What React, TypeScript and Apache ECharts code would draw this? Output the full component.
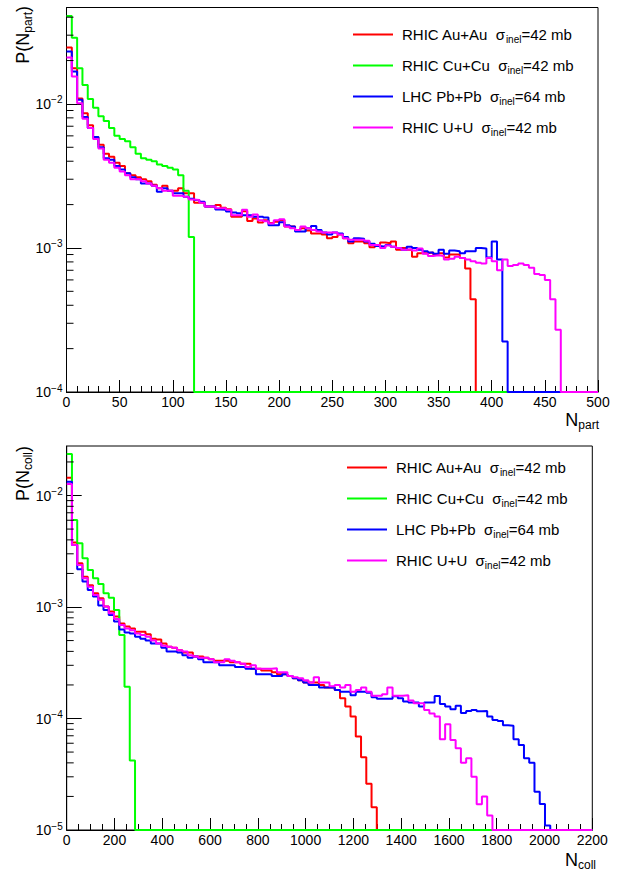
import React, { useEffect, useRef } from "react";
import * as echarts from "echarts";

const FONT = "Liberation Sans";

// ---------- data ----------
const NPART_BIN = 5; // bin width in N_part
const NCOLL_BIN = 22; // bin width in N_coll

const seriesNames = ["RHIC Au+Au", "RHIC Cu+Cu", "LHC Pb+Pb", "RHIC U+U"];
const sigmaInel = [42, 42, 64, 42];
const seriesColors = ["#ff0000", "#00ff00", "#0000ff", "#ff00ff"];

// P(N_part), 100 bins of width 5 from 0 to 500
const npartAuAu = [
  0.0246, 0.0177, 0.0109, 0.0086, 0.0071, 0.0059, 0.0052, 0.0045, 0.0043, 0.0039,
  0.0037, 0.0033, 0.0032, 0.0031, 0.003, 0.0029, 0.00275, 0.0026, 0.0027, 0.0025,
  0.0025, 0.0026, 0.0024, 0.0024, 0.00206, 0.00206, 0.00194, 0.00194, 0.00199, 0.0019,
  0.00186, 0.00165, 0.00165, 0.0018, 0.00154, 0.0016, 0.0015, 0.00156, 0.00149, 0.00152,
  0.00156, 0.00141, 0.00141, 0.00133, 0.00137, 0.00132, 0.00126, 0.00126, 0.00124, 0.00117,
  0.00119, 0.00124, 0.00117, 0.00108, 0.00111, 0.00111, 0.00108, 0.00101, 0.00105, 0.00109,
  0.00108, 0.00111, 0.00097, 0.001, 0.00097, 0.00087, 0.00092, 0.00092, 0.00093, 0.0009,
  0.00092, 0.00086, 0.0009, 0.0009, 0.00085, 0.00072, 0.00044, 0, 0, 0,
  0, 0, 0, 0, 0, 0, 0, 0, 0, 0,
  0, 0, 0, 0, 0, 0, 0, 0, 0, 0,
];
const npartCuCu = [
  0.0408, 0.0288, 0.0177, 0.01355, 0.0108, 0.0094, 0.0082, 0.0076, 0.0068, 0.006,
  0.0057, 0.0055, 0.005, 0.0045, 0.0042, 0.0041, 0.004, 0.0038, 0.0037, 0.0036,
  0.0035, 0.0032, 0.0025, 0.00119, 0, 0, 0, 0, 0, 0,
  0, 0, 0, 0, 0, 0, 0, 0, 0, 0,
  0, 0, 0, 0, 0, 0, 0, 0, 0, 0,
  0, 0, 0, 0, 0, 0, 0, 0, 0, 0,
  0, 0, 0, 0, 0, 0, 0, 0, 0, 0,
  0, 0, 0, 0, 0, 0, 0, 0, 0, 0,
  0, 0, 0, 0, 0, 0, 0, 0, 0, 0,
  0, 0, 0, 0, 0, 0, 0, 0, 0, 0,
];
const npartPbPb = [
  0.0231, 0.0168, 0.0107, 0.0081, 0.0068, 0.0059, 0.005, 0.0042, 0.0041, 0.0037,
  0.0035, 0.0033, 0.0031, 0.003, 0.0028, 0.0028, 0.0027, 0.00246, 0.0026, 0.0025,
  0.0024, 0.0024, 0.00227, 0.0022, 0.00215, 0.00209, 0.00194, 0.00194, 0.00185, 0.00184,
  0.00179, 0.00176, 0.00174, 0.00169, 0.00169, 0.00165, 0.00165, 0.00163, 0.00144, 0.00144,
  0.00151, 0.00144, 0.00141, 0.0013, 0.0013, 0.00137, 0.00142, 0.00133, 0.00128, 0.00124,
  0.00128, 0.00126, 0.00119, 0.00111, 0.00117, 0.00116, 0.00111, 0.00107, 0.00103, 0.00102,
  0.00105, 0.00102, 0.001, 0.00097, 0.00102, 0.001, 0.00097, 0.00095, 0.00093, 0.00091,
  0.00097, 0.00091, 0.00096, 0.00095, 0.00092, 0.00095, 0.00095, 0.001, 0.00099, 0.00086,
  0.00111, 0.00083, 0.000224, 0, 0, 0, 0, 0, 0, 0,
  0, 0, 0, 0, 0, 0, 0, 0, 0, 0,
];
const npartUU = [
  0.021, 0.0155, 0.0101, 0.0079, 0.0068, 0.0057, 0.0049, 0.0041, 0.0039, 0.0036,
  0.0034, 0.0032, 0.003, 0.003, 0.0029, 0.0028, 0.0027, 0.0026, 0.0025, 0.0025,
  0.0023, 0.0023, 0.00227, 0.00217, 0.00215, 0.00206, 0.00194, 0.00194, 0.00189, 0.00189,
  0.00184, 0.00169, 0.00169, 0.00184, 0.00165, 0.00171, 0.00156, 0.00153, 0.00148, 0.00156,
  0.00158, 0.00141, 0.00137, 0.00133, 0.00141, 0.00137, 0.00133, 0.0013, 0.00128, 0.00128,
  0.00128, 0.00124, 0.00117, 0.00114, 0.00114, 0.00114, 0.00112, 0.00105, 0.00105, 0.001,
  0.00104, 0.00102, 0.001, 0.00097, 0.00098, 0.00096, 0.00099, 0.00091, 0.00088, 0.00089,
  0.00088, 0.00083, 0.00084, 0.00087, 0.00085, 0.00083, 0.00081, 0.00079, 0.00078, 0.00085,
  0.00081, 0.0007, 0.00083, 0.00075, 0.00076, 0.00078, 0.00076, 0.00073, 0.00066, 0.00065,
  0.0006, 0.00044, 0.00027, 0, 0, 0, 0, 0, 0, 0,
];

// P(N_coll), 100 bins of width 22 from 0 to 2200
const ncollAuAu = [
  0.01445, 0.00378, 0.00247, 0.00187, 0.00157, 0.00133, 0.0012, 0.00101, 0.00091, 0.00082,
  0.00071, 0.00067, 0.00064, 0.0006, 0.0006, 0.00057, 0.00052, 0.00051, 0.00047, 0.00044,
  0.00043, 0.00041, 0.00039, 0.00039, 0.00036, 0.00036, 0.00035, 0.00034, 0.00033, 0.00033,
  0.00033, 0.00032, 0.00032, 0.00031, 0.00031, 0.00028, 0.00028, 0.00027, 0.00027, 0.00026,
  0.00025, 0.00025, 0.00024, 0.00023, 0.00022, 0.00021, 0.00021, 0.00021, 0.0002, 0.00019,
  0.00019, 0.00018, 0.000152, 0.000128, 0.000104, 0.000069, 0.000045, 0.000026, 0.000016, 0,
  0, 0, 0, 0, 0, 0, 0, 0, 0, 0,
  0, 0, 0, 0, 0, 0, 0, 0, 0, 0,
  0, 0, 0, 0, 0, 0, 0, 0, 0, 0,
  0, 0, 0, 0, 0, 0, 0, 0, 0, 0,
];
const ncollCuCu = [
  0.0236, 0.00603, 0.00373, 0.00274, 0.00215, 0.00181, 0.00161, 0.00133, 0.00121, 0.00094,
  0.00056, 0.000193, 0.000042, 0, 0, 0, 0, 0, 0, 0,
  0, 0, 0, 0, 0, 0, 0, 0, 0, 0,
  0, 0, 0, 0, 0, 0, 0, 0, 0, 0,
  0, 0, 0, 0, 0, 0, 0, 0, 0, 0,
  0, 0, 0, 0, 0, 0, 0, 0, 0, 0,
  0, 0, 0, 0, 0, 0, 0, 0, 0, 0,
  0, 0, 0, 0, 0, 0, 0, 0, 0, 0,
  0, 0, 0, 0, 0, 0, 0, 0, 0, 0,
  0, 0, 0, 0, 0, 0, 0, 0, 0, 0,
];
const ncollPbPb = [
  0.0133, 0.0036, 0.00218, 0.00169, 0.00142, 0.00124, 0.00103, 0.00094, 0.00085, 0.00074,
  0.00063, 0.00059, 0.00058, 0.00054, 0.00052, 0.0005, 0.00047, 0.00047, 0.00043, 0.0004,
  0.0004, 0.00039, 0.00037, 0.00035, 0.00036, 0.00034, 0.00032, 0.00032, 0.00032, 0.0003,
  0.0003, 0.0003, 0.00029, 0.00029, 0.00028, 0.00028, 0.00025, 0.00025, 0.00025, 0.00024,
  0.00024, 0.00025, 0.00024, 0.00023, 0.00022, 0.00021, 0.0002, 0.0002, 0.00019, 0.00019,
  0.00019, 0.00018, 0.000174, 0.000174, 0.000162, 0.000174, 0.000174, 0.00017, 0.000155, 0.00015,
  0.00015, 0.00015, 0.000158, 0.000152, 0.000142, 0.000139, 0.000139, 0.000128, 0.000139, 0.000139,
  0.000159, 0.000135, 0.000128, 0.000121, 0.00013, 0.000112, 0.000117, 0.000119, 0.000116, 0.000117,
  0.000104, 0.000097, 0.000095, 0.000087, 0.000086, 0.000065, 0.000058, 0.000044, 0.00004, 0.000022,
  0.0000171, 0.000011, 0, 0, 0, 0, 0, 0, 0, 0,
];
const ncollUU = [
  0.0127, 0.0036, 0.00238, 0.00181, 0.00152, 0.00128, 0.00116, 0.00101, 0.00088, 0.00078,
  0.00069, 0.00064, 0.00062, 0.00058, 0.00056, 0.00054, 0.0005, 0.00047, 0.00045, 0.00044,
  0.00043, 0.00041, 0.0004, 0.00037, 0.00036, 0.00035, 0.00035, 0.00034, 0.00032, 0.00032,
  0.00034, 0.00033, 0.00032, 0.00031, 0.00029, 0.0003, 0.00028, 0.00028, 0.00028, 0.000282,
  0.00026, 0.00026, 0.00024, 0.000234, 0.00023, 0.00022, 0.00021, 0.000234, 0.00021, 0.00021,
  0.000195, 0.0002, 0.00019, 0.0002, 0.000174, 0.00018, 0.00019, 0.000174, 0.00016, 0.00016,
  0.000165, 0.00019, 0.00016, 0.00016, 0.000162, 0.000145, 0.000137, 0.000137, 0.000119, 0.000111,
  0.000104, 0.000065, 0.000089, 0.000064, 0.000054, 0.00004, 0.000044, 0.00003, 0.000017, 0.00002,
  0.0000135, 0, 0, 0, 0, 0, 0, 0, 0, 0,
  0, 0, 0, 0, 0, 0, 0, 0, 0, 0,
];

// axes
const npartAxis = { min: 0, max: 500, interval: 50 };
const ncollAxis = { min: 0, max: 2200, interval: 200 };
const topY = { min: 1e-4, max: 0.0467 };
const bottomY = { min: 1e-5, max: 0.0278 };
const topMinorY = [
  2e-4, 3e-4, 4e-4, 5e-4, 6e-4, 7e-4, 8e-4, 9e-4,
  2e-3, 3e-3, 4e-3, 5e-3, 6e-3, 7e-3, 8e-3, 9e-3,
  2e-2, 3e-2, 4e-2,
];
const bottomMinorY = [
  2e-5, 3e-5, 4e-5, 5e-5, 6e-5, 7e-5, 8e-5, 9e-5,
  2e-4, 3e-4, 4e-4, 5e-4, 6e-4, 7e-4, 8e-4, 9e-4,
  2e-3, 3e-3, 4e-3, 5e-3, 6e-3, 7e-3, 8e-3, 9e-3,
  2e-2,
];

// ---------- helpers ----------
function histPoints(values: number[], bin: number, floor: number) {
  const clamp = (v: number) => (v > floor ? v : floor);
  const pts = values.map((v, i) => [i * bin, clamp(v)]);
  pts.push([values.length * bin, clamp(values[values.length - 1])]);
  return pts;
}

const labelRich = {
  b: { fontSize: 14, fontFamily: FONT, color: "#000" },
  s: { fontSize: 10, fontFamily: FONT, color: "#000", padding: [0, 0, 8, 0] },
};

function logLabel(v: number) {
  const e = Math.round(Math.log10(v));
  return `{b|10}{s|${e < 0 ? "\u2212" : ""}${Math.abs(e)}}`;
}

function legendFormatter(name: string) {
  const i = seriesNames.indexOf(name);
  return `{t0|${name}  \u03c3}{s|inel}{t|=${sigmaInel[i]} mb}`;
}

const legendRich = {
  t0: { fontSize: 15, fontFamily: FONT, color: "#000", padding: [0, 0, 0, 4] },
  t: { fontSize: 15, fontFamily: FONT, color: "#000" },
  s: { fontSize: 10, fontFamily: FONT, color: "#000", padding: [9, 0, 0, 0] },
};

function xAxisCfg(gridIndex: number, ax: { min: number; max: number; interval: number }, minorSplit: number) {
  return {
    type: "value",
    gridIndex,
    min: ax.min,
    max: ax.max,
    interval: ax.interval,
    axisLine: { show: true, lineStyle: { color: "#000", width: 1 } },
    axisTick: { show: true, inside: true, length: 12, lineStyle: { color: "#000", width: 1 } },
    minorTick: { show: true, splitNumber: minorSplit, length: 6, lineStyle: { color: "#000", width: 1 } },
    axisLabel: {
      color: "#000",
      fontSize: 14,
      fontFamily: FONT,
      margin: 3,
      formatter: (v: number) => String(v),
    },
    splitLine: { show: false },
  };
}

function yAxisCfg(gridIndex: number, ax: { min: number; max: number }) {
  return {
    type: "log",
    logBase: 10,
    gridIndex,
    min: ax.min,
    max: ax.max,
    axisLine: { show: true, lineStyle: { color: "#000", width: 1 } },
    axisTick: { show: true, inside: true, length: 15, lineStyle: { color: "#000", width: 1 } },
    axisLabel: {
      formatter: logLabel,
      rich: labelRich,
      margin: 4,
      showMaxLabel: false,
      showMinLabel: true,
    },
    splitLine: { show: false },
  };
}

function minorTickSeries(values: number[], xIdx: number, yIdx: number) {
  return {
    type: "custom",
    xAxisIndex: xIdx,
    yAxisIndex: yIdx,
    silent: true,
    z: 5,
    data: values.map((v) => [0, v]),
    renderItem: (_params: any, api: any) => {
      const p = api.coord([api.value(0), api.value(1)]);
      return {
        type: "line",
        shape: { x1: p[0], y1: p[1], x2: p[0] + 7, y2: p[1] },
        style: { stroke: "#000", lineWidth: 1 },
      };
    },
  };
}

function histSeries(name: string, color: string, values: number[], bin: number, floor: number, xIdx: number, yIdx: number) {
  return {
    type: "line",
    name,
    xAxisIndex: xIdx,
    yAxisIndex: yIdx,
    step: "end",
    symbol: "none",
    color,
    lineStyle: { color, width: 2 },
    data: histPoints(values, bin, floor),
  };
}

function legendCfg(left: number, top: number) {
  return {
    orient: "vertical",
    left,
    top,
    icon: "rect",
    itemWidth: 40,
    itemHeight: 2,
    itemGap: 14,
    data: seriesNames,
    formatter: legendFormatter,
    textStyle: { rich: legendRich },
    selectedMode: false,
  };
}

export default function App() {
  const ref = useRef<HTMLDivElement>(null);
  useEffect(() => {
    if (!ref.current) return;
    const chart = echarts.init(ref.current, undefined, { renderer: "svg" });
    const top = [npartAuAu, npartCuCu, npartPbPb, npartUU];
    const bot = [ncollAuAu, ncollCuCu, ncollPbPb, ncollUU];
    const titleRich = {
      n: { fontSize: 18, fontFamily: FONT, fill: "#000" },
      s: { fontSize: 12, fontFamily: FONT, fill: "#000", padding: [10, 0, 0, 0] },
    };
    const option: any = {
      animation: false,
      backgroundColor: "#fff",
      textStyle: { fontFamily: FONT },
      grid: [
        { left: 66.5, top: 7.5, width: 531.5, height: 384.5, show: true, borderColor: "#000", borderWidth: 1, backgroundColor: "transparent" },
        { left: 66.7, top: 446, width: 525.6, height: 384, show: true, borderColor: "#000", borderWidth: 1, backgroundColor: "transparent" },
      ],
      xAxis: [xAxisCfg(0, npartAxis, 5), xAxisCfg(1, ncollAxis, 4)],
      yAxis: [yAxisCfg(0, topY), yAxisCfg(1, bottomY)],
      legend: [legendCfg(348, 22), legendCfg(342, 455)],
      graphic: [
        {
          type: "text",
          x: 599,
          y: 409,
          style: { text: "{n|N}{s|part}", align: "right", verticalAlign: "top", rich: titleRich },
        },
        {
          type: "text",
          x: 596,
          y: 849,
          style: { text: "{n|N}{s|coll}", align: "right", verticalAlign: "top", rich: titleRich },
        },
        {
          type: "text",
          x: 12,
          y: 6,
          rotation: Math.PI / 2,
          style: { text: "{n|P(N}{s|part}{n|)}", align: "right", verticalAlign: "top", rich: titleRich },
        },
        {
          type: "text",
          x: 12,
          y: 446,
          rotation: Math.PI / 2,
          style: { text: "{n|P(N}{s|coll}{n|)}", align: "right", verticalAlign: "top", rich: titleRich },
        },
      ],
      series: [
        ...seriesNames.map((n, i) => histSeries(n, seriesColors[i], top[i], NPART_BIN, topY.min, 0, 0)),
        ...seriesNames.map((n, i) => histSeries(n, seriesColors[i], bot[i], NCOLL_BIN, bottomY.min, 1, 1)),
        minorTickSeries(topMinorY, 0, 0),
        minorTickSeries(bottomMinorY, 1, 1),
      ],
    };
    chart.setOption(option);
    return () => chart.dispose();
  }, []);
  return (
    <div
      ref={ref}
      style={{ position: "fixed", left: 0, top: 0, width: 621, height: 871, background: "#fff" }}
    />
  );
}
